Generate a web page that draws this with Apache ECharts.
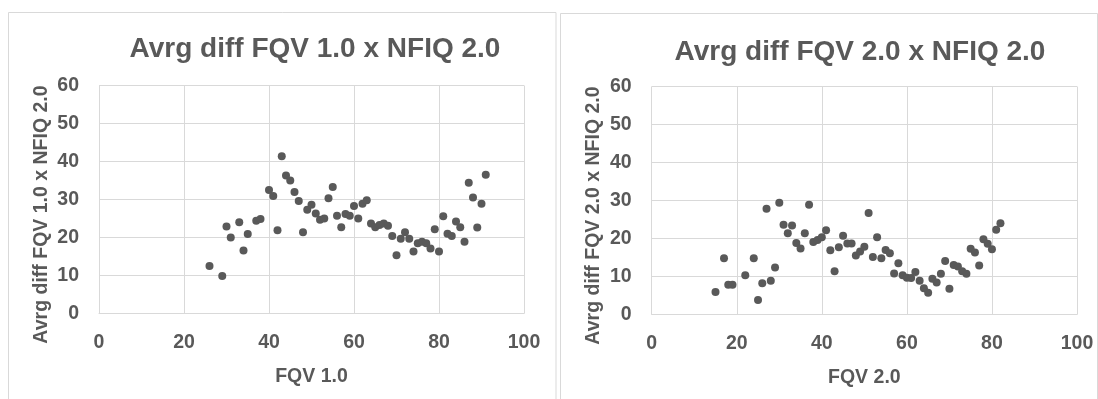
<!DOCTYPE html>
<html>
<head>
<meta charset="utf-8">
<script src="https://cdn.jsdelivr.net/npm/echarts@6/dist/echarts.min.js"></script>
<style>
  html, body { margin: 0; padding: 0; background: #fff; }
  #chart { width: 1098px; height: 399px; }
</style>
</head>
<body>
<div id="chart"></div>
<script>
const fqv1X = [26, 29, 30, 31, 33, 34, 35, 37, 38, 40, 41, 42, 43, 44, 45, 46, 47, 48, 49, 50,
  51, 52, 53, 54, 55, 56, 57, 58, 59, 60, 61, 62, 63, 64, 65, 66, 67, 68, 69, 70,
  71, 72, 73, 74, 75, 76, 77, 78, 79, 80, 81, 82, 83, 84, 85, 86, 87, 88, 89, 90, 91]
const fqv1Diff = [12.5, 9.9, 22.9, 20.0, 24.0, 16.6, 20.9, 24.4, 24.9, 32.5, 30.9, 21.9, 41.4, 36.3, 35.0, 32.0, 29.6, 21.4, 27.3, 28.6,
  26.3, 24.7, 25.0, 30.3, 33.3, 25.7, 22.7, 26.2, 25.7, 28.3, 25.0, 28.9, 29.8, 23.7, 22.7, 23.3, 23.7, 23.1, 20.4, 15.3,
  19.7, 21.4, 19.7, 16.3, 18.5, 18.9, 18.5, 17.1, 22.2, 16.3, 25.6, 21.0, 20.4, 24.2, 22.7, 18.9, 34.4, 30.5, 22.6, 28.9, 36.5]

const fqv2X = [15, 17, 18, 19, 22, 24, 25, 26, 27, 28, 29, 30, 31, 32, 33, 34, 35, 36, 37, 38,
  39, 40, 41, 42, 43, 44, 45, 46, 47, 48, 49, 50, 51, 52, 53, 54, 55, 56, 57, 58,
  59, 60, 61, 62, 63, 64, 65, 66, 67, 68, 69, 70, 71, 72, 73, 74, 75, 76, 77, 78,
  79, 80, 81, 82]
const fqv2Diff = [5.9, 14.8, 7.8, 7.8, 10.3, 14.8, 3.8, 8.2, 27.8, 8.9, 12.4, 29.4, 23.6, 21.4, 23.4, 18.8, 17.4, 21.4, 28.9, 19.1,
  19.6, 20.3, 22.2, 16.9, 11.4, 17.7, 20.7, 18.7, 18.7, 15.5, 16.6, 17.8, 26.7, 15.1, 20.3, 14.8, 17.0, 16.1, 10.8, 13.5,
  10.3, 9.7, 9.6, 11.2, 8.9, 6.9, 5.7, 9.4, 8.4, 10.7, 14.1, 6.8, 13.0, 12.6, 11.4, 10.7, 17.3, 16.3, 12.9, 19.8,
  18.6, 17.2, 22.3, 24.0]

const titles = ['Avrg diff FQV 1.0 x NFIQ 2.0', 'Avrg diff FQV 2.0 x NFIQ 2.0']
const xNames = ['FQV 1.0', 'FQV 2.0']
const yNames = ['Avrg diff FQV 1.0 x NFIQ 2.0', 'Avrg diff FQV 2.0 x NFIQ 2.0']

const textColor = '#595959'
const lineColor = '#d9d9d9'
const font = '"Liberation Sans", Arial, sans-serif'

const zip = (xs, ys) => xs.map((x, i) => [x, ys[i]])

const chart = echarts.init(document.getElementById('chart'))

const grids = [
  { left: 99, top: 85.5, width: 425, height: 228 },
  { left: 651.7, top: 86.5, width: 425.3, height: 228 },
]

const xAxis = grids.map((g, i) => ({
  type: 'value',
  gridIndex: i,
  min: 0,
  max: 100,
  interval: 20,
  name: xNames[i],
  nameLocation: 'middle',
  nameGap: 53,
  nameTextStyle: { color: textColor, fontFamily: font, fontWeight: 'bold', fontSize: 19.5 },
  axisLine: { show: true, lineStyle: { color: lineColor, width: 1 } },
  axisTick: { show: false },
  axisLabel: { color: textColor, fontFamily: font, fontWeight: 'bold', fontSize: 19.5, margin: 19 },
  splitLine: { show: true, lineStyle: { color: lineColor, width: 1 } },
}))

const yAxis = grids.map((g, i) => ({
  type: 'value',
  gridIndex: i,
  min: 0,
  max: 60,
  interval: 10,
  name: yNames[i],
  nameLocation: 'middle',
  nameGap: i === 0 ? 47 : 48,
  nameTextStyle: {
    color: textColor, fontFamily: font, fontWeight: 'bold', fontSize: 19.5,
    padding: [0, 30, 0, 0],
  },
  axisLine: { show: false },
  axisTick: { show: false },
  axisLabel: { color: textColor, fontFamily: font, fontWeight: 'bold', fontSize: 19.5, margin: 20 },
  splitLine: { show: true, lineStyle: { color: lineColor, width: 1 } },
}))

chart.setOption({
  animation: false,
  backgroundColor: '#fff',
  grid: grids,
  xAxis,
  yAxis,
  graphic: [
    {
      type: 'rect', silent: true,
      shape: { x: 8.5, y: 12.5, width: 547.5, height: 400 },
      style: { fill: 'none', stroke: lineColor, lineWidth: 1 },
    },
    {
      type: 'rect', silent: true,
      shape: { x: 560.5, y: 13.5, width: 537, height: 400 },
      style: { fill: 'none', stroke: lineColor, lineWidth: 1 },
    },
    {
      type: 'text', x: 315, y: 49,
      style: {
        text: titles[0], fill: textColor, font: 'bold 28px ' + font,
        textAlign: 'center', textVerticalAlign: 'middle',
      },
    },
    {
      type: 'text', x: 860, y: 52,
      style: {
        text: titles[1], fill: textColor, font: 'bold 28px ' + font,
        textAlign: 'center', textVerticalAlign: 'middle',
      },
    },
  ],
  series: [
    {
      type: 'scatter',
      xAxisIndex: 0,
      yAxisIndex: 0,
      symbolSize: 8,
      itemStyle: { color: textColor, opacity: 1 },
      data: zip(fqv1X, fqv1Diff),
    },
    {
      type: 'scatter',
      xAxisIndex: 1,
      yAxisIndex: 1,
      symbolSize: 8,
      itemStyle: { color: textColor, opacity: 1 },
      data: zip(fqv2X, fqv2Diff),
    },
  ],
})
</script>
</body>
</html>
